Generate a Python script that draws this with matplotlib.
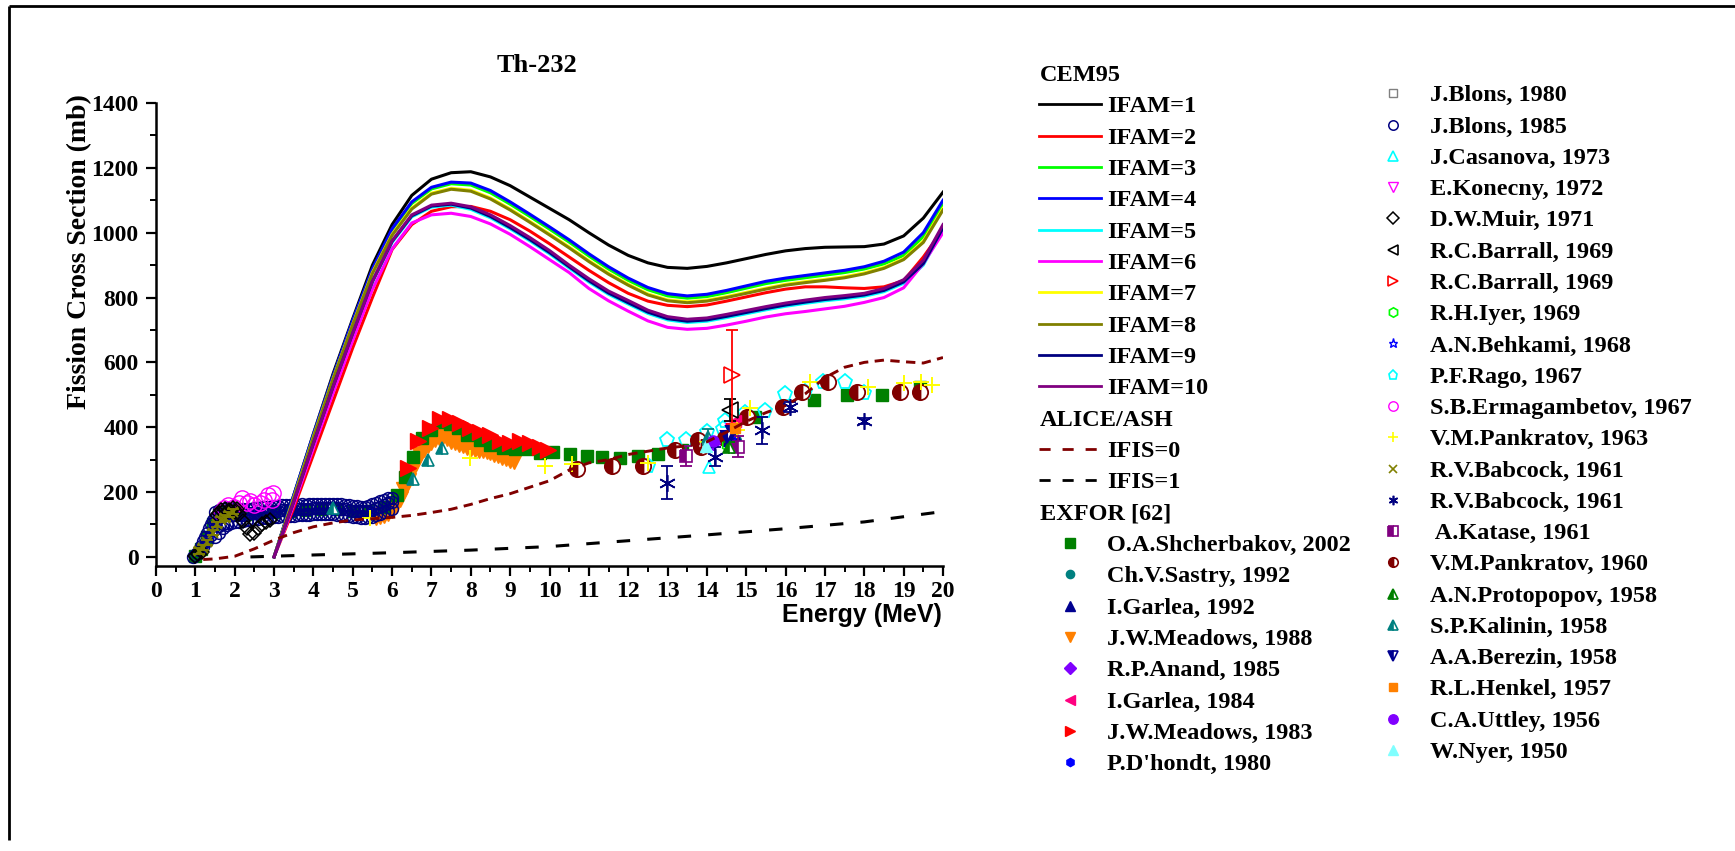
import matplotlib
matplotlib.use("Agg")
import matplotlib.pyplot as plt
from matplotlib.ticker import MultipleLocator

W, H = 1735, 851
SERIF = "Liberation Serif"
SANS = "Liberation Sans"
plt.rcParams["font.family"] = [SERIF, "DejaVu Serif"]
plt.rcParams["font.weight"] = "bold"

# ---------------- CEM95 curves (mb) ----------------
E_cem = [3.0, 3.5, 4.0, 4.5, 5.0, 5.5, 6.0, 6.5, 7.0, 7.5, 8.0, 8.5, 9.0, 9.5, 10.0, 10.5, 11.0, 11.5,
         12.0, 12.5, 13.0, 13.5, 14.0, 14.5, 15.0, 15.5, 16.0, 16.5, 17.0, 17.5, 18.0, 18.5, 19.0, 19.5, 20.0]
ifam1 = [0, 190, 380, 565, 735, 900, 1025, 1115, 1165, 1185, 1188, 1172, 1145, 1110, 1075, 1040, 1000, 962,
         930, 907, 893, 890, 896, 907, 920, 933, 944, 951, 955, 956, 957, 965, 990, 1045, 1125]
ifam2 = [0, 150, 315, 480, 645, 800, 948, 1025, 1066, 1080, 1081, 1066, 1040, 1005, 966, 925, 884, 846,
         813, 789, 776, 772, 777, 789, 802, 815, 826, 833, 833, 830, 828, 833, 852, 925, 1010]
ifam3 = [0, 188, 376, 556, 727, 885, 1008, 1090, 1135, 1151, 1147, 1123, 1088, 1050, 1011, 971, 928, 888,
         853, 824, 805, 798, 803, 815, 829, 843, 853, 861, 869, 877, 888, 904, 930, 988, 1085]
ifam4 = [0, 190, 378, 558, 730, 888, 1012, 1095, 1140, 1156, 1153, 1130, 1095, 1057, 1018, 978, 935, 895,
         860, 831, 812, 805, 810, 822, 836, 850, 860, 868, 876, 884, 895, 912, 940, 1000, 1100]
ifam5 = [0, 168, 348, 522, 687, 847, 970, 1049, 1079, 1085, 1072, 1046, 1012, 975, 935, 891, 848, 810,
         780, 751, 731, 723, 727, 738, 750, 762, 773, 782, 790, 796, 804, 818, 844, 900, 1010]
ifam6 = [0, 160, 335, 505, 668, 825, 950, 1030, 1055, 1060, 1050, 1027, 995, 957, 917, 877, 828, 790,
         758, 728, 708, 702, 705, 715, 727, 740, 750, 757, 765, 773, 785, 800, 830, 905, 1000]
ifam7 = [0, 182, 370, 550, 718, 877, 995, 1076, 1122, 1137, 1131, 1107, 1073, 1035, 996, 956, 914, 875,
         841, 811, 793, 787, 792, 803, 816, 829, 841, 849, 856, 864, 876, 893, 920, 974, 1075]
ifam8 = [0, 180, 368, 548, 716, 874, 992, 1073, 1119, 1134, 1128, 1104, 1070, 1032, 993, 953, 911, 872,
         838, 808, 790, 784, 789, 800, 813, 826, 838, 846, 853, 861, 873, 890, 917, 970, 1070]
ifam9 = [0, 170, 350, 525, 690, 850, 973, 1052, 1082, 1088, 1076, 1050, 1016, 979, 939, 895, 852, 814,
         784, 755, 735, 727, 731, 742, 754, 766, 777, 786, 794, 800, 808, 822, 848, 905, 1015]
ifam10 = [0, 170, 350, 525, 690, 850, 975, 1055, 1085, 1091, 1080, 1055, 1022, 985, 945, 900, 858, 820,
          791, 761, 741, 733, 737, 748, 760, 772, 783, 792, 800, 806, 813, 828, 855, 915, 1025]

# ---------------- ALICE/ASH ----------------
E_ifis0 = [1.2, 1.5, 2.0, 2.5, 3.0, 3.5, 4.0, 4.5, 5.0, 5.5, 6.0, 6.5, 7.0, 7.5, 8.0, 8.5, 9.0, 9.5, 10.0,
           10.5, 11.0, 11.5, 12.0, 12.5, 13.0, 13.5, 14.0, 14.5, 15.0, 15.5, 16.0, 16.5, 17.0, 17.5, 18.0,
           18.5, 19.0, 19.5, 20.0]
ifis0 = [-8, -6, 2, 25, 52, 75, 93, 105, 114, 118, 122, 128, 137, 147, 162, 180, 195, 215, 235,
         268, 290, 300, 316, 326, 336, 343, 355, 385, 418, 445, 467, 503, 553, 585, 600,
         607, 602, 598, 615]
E_ifis1 = [2.4, 4.0, 6.0, 8.0, 10.0, 12.0, 14.0, 16.0, 18.0, 20.0]
ifis1 = [0, 6, 13, 21, 32, 50, 68, 87, 108, 140]

# ---------------- EXFOR data (E in MeV, sigma in mb) ----------------
shch_E = [1.0, 1.15, 1.3, 1.45, 1.6, 1.8, 2.0, 2.3, 2.6, 3.0, 3.4, 3.8, 4.2, 4.6, 5.0, 5.4, 5.8,
          6.12, 6.33, 6.54, 6.75, 7.0, 7.22, 7.47, 7.68, 7.9, 8.23, 8.49, 8.83, 9.12, 9.42, 9.76, 10.1,
          10.52, 10.95, 11.33, 11.79, 12.26, 12.77, 13.36, 15.22, 16.71, 17.55, 18.44, 19.42]
shch_s = [3, 25, 60, 100, 130, 138, 135, 132, 135, 140, 143, 145, 147, 147, 143, 142, 155,
          191, 246, 307, 366, 392, 417, 410, 397, 376, 361, 345, 335, 332, 332, 320, 323,
          318, 311, 309, 304, 311, 318, 330, 433, 484, 500, 500, 525]
sastry_E = [14.75]
sastry_s = [362]
garlea92_E = [14.55, 14.7]
garlea92_s = [360, 378]
mead88_E = [5.6, 5.7, 5.8, 5.9, 6.0, 6.1, 6.2, 6.3, 6.4, 6.5, 6.6, 6.7, 6.8, 6.9, 7.0, 7.1, 7.2, 7.3, 7.4,
            7.5, 7.6, 7.7, 7.8, 7.9, 8.0, 8.1, 8.2, 8.3, 8.4, 8.5, 8.6, 8.7, 8.8, 8.9, 9.0, 9.1]
mead88_s = [124, 126, 130, 136, 145, 160, 180, 205, 235, 265, 292, 315, 333, 345, 355, 365, 371, 372, 366,
            358, 353, 349, 344, 340, 336, 333, 331, 330, 328, 324, 318, 313, 308, 304, 300, 297]
anand_E = [14.15]
anand_s = [350]
garlea84_E = [14.71]
garlea84_s = [420]
mead83_E = [6.41, 6.67, 6.96, 7.22, 7.47, 7.73, 7.98, 8.23, 8.49, 8.74, 9.0, 9.25, 9.5, 9.76, 9.97]
mead83_s = [273, 356, 397, 425, 425, 412, 397, 386, 376, 356, 352, 356, 351, 340, 330]
dhondt_E = [1.25, 1.35, 1.45, 1.55, 2.5, 3.5, 4.5, 5.5]
dhondt_s = [40, 65, 92, 112, 135, 143, 146, 142]
blons80_E = [1.8, 2.2]
blons80_s = [125, 128]
blons85_E_rise = [0.95, 1.0, 1.05, 1.1, 1.15, 1.2, 1.25, 1.3, 1.35, 1.4, 1.45, 1.2, 1.3, 1.4, 1.5, 1.6, 1.7, 1.8]
blons85_s_rise = [0, 5, 12, 22, 35, 50, 62, 75, 88, 100, 115, 30, 48, 68, 62, 75, 88, 98]
blons85_E_band = [1.5, 1.6, 1.7, 1.8, 1.9, 2.0, 2.1, 2.2, 2.3, 2.4, 2.5, 2.6, 2.7, 2.8, 2.9, 3.0, 3.1, 3.2,
                  3.3, 3.4, 3.5, 3.6, 3.7, 3.8, 3.9, 4.0, 4.1, 4.2, 4.3, 4.4, 4.5, 4.6, 4.7, 4.8, 4.9, 5.0,
                  5.1, 5.2, 5.3, 5.4, 5.5, 5.6, 5.7, 5.8, 5.9, 6.0]
blons85_s_upper = [140, 146, 149, 150, 149, 150, 147, 148, 147, 149, 150, 151, 153, 154, 155, 157, 158, 159,
                   160, 159, 160, 161, 162, 161, 162, 163, 162, 163, 162, 163, 164, 162, 163, 161, 159, 157,
                   156, 155, 155, 157, 162, 167, 173, 177, 181, 183]
blons85_s_mid = [118, 124, 127, 128, 128, 129, 128, 130, 132, 134, 135, 137, 138, 139, 140, 142, 143, 144,
                 145, 145, 146, 147, 148, 148, 149, 150, 150, 150, 151, 151, 151, 150, 149, 147, 145, 143,
                 142, 141, 141, 142, 145, 150, 155, 161, 165, 170]
blons85_s_lower = [85, 95, 100, 104, 106, 108, 108, 110, 113, 115, 116, 118, 119, 120, 121, 123, 124, 125,
                   126, 127, 127, 128, 129, 129, 130, 131, 131, 131, 132, 132, 131, 130, 129, 127, 125, 123,
                   122, 121, 121, 122, 124, 128, 133, 139, 143, 148]
casanova_E = [14.06]
casanova_s = [277]
konecny_E = [14.6]
konecny_s = [395]
muir_E = [1.0, 1.08, 1.16, 1.55, 1.6, 1.7, 1.8, 1.9, 2.0, 2.1, 2.2, 2.3, 2.4, 2.5, 2.6, 2.7, 2.8, 2.9,
          1.65, 1.75, 1.85, 1.95, 2.05]
muir_s = [3, 8, 15, 128, 135, 140, 138, 142, 140, 132, 112, 90, 72, 75, 88, 100, 108, 115,
          145, 148, 146, 150, 147]
barrall_b_E = [14.59]
barrall_b_s = [453]
barrall_b_err = [35]
barrall_r_E = [14.63]
barrall_r_s = [561]
barrall_r_err_lo = [150]
barrall_r_err_hi = [140]
iyer_E = [14.5]
iyer_s = [345]
behkami_E = [14.6]
behkami_s = [365]
rago_E = [12.51, 12.98, 13.48, 14.0, 14.42, 14.46, 14.97, 15.48, 15.98, 16.49, 16.96, 17.5, 18.0]
rago_s = [281, 361, 361, 386, 395, 420, 443, 451, 502, 510, 541, 541, 505]
erm_E = [1.65, 1.72, 1.84, 1.99, 2.1, 2.18, 2.3, 2.39, 2.5, 2.64, 2.75, 2.85, 2.94, 2.98]
erm_s = [140, 150, 160, 155, 165, 181, 165, 171, 160, 165, 175, 191, 176, 196]
pank63_E = [5.44, 7.98, 9.89, 10.56, 12.51, 14.0, 14.76, 15.1, 16.62, 18.1, 19.0, 19.45, 19.71]
pank63_s = [119, 304, 279, 287, 289, 355, 392, 460, 538, 525, 535, 540, 530]
babc_x_E = [1.1, 1.2, 1.3, 1.45, 1.55, 1.65, 1.75, 1.85, 1.95]
babc_x_s = [18, 28, 45, 75, 100, 115, 120, 130, 140]
babc_x_err = [8, 8, 8, 8, 8, 8, 8, 8, 8]
babc_a_E = [12.98, 14.2, 15.41, 16.1, 17.99]
babc_a_s = [229, 309, 390, 463, 420]
babc_a_err = [50, 30, 41, 15, 10]
katase_E = [13.48, 14.8]
katase_s = [311, 340]
katase_err = [32, 32]
pank60_E = [10.69, 11.6, 12.38, 13.19, 13.78, 13.86, 14.46, 15.01, 15.94, 16.41, 17.09, 17.81, 18.91, 19.42]
pank60_s = [270, 281, 281, 330, 361, 340, 366, 431, 463, 510, 541, 510, 510, 510]
proto_E = [14.55]
proto_s = [338]
proto_err = [15]
kalinin_E = [4.5, 6.54, 6.92, 7.26, 14.02]
kalinin_s = [150, 240, 299, 335, 370]
kalinin_err = [0, 0, 0, 0, 25]
berezin_E = [14.5, 14.65]
berezin_s = [371, 385]
henkel_E = [14.71]
henkel_s = [397]
uttley_E = [14.16]
uttley_s = [356]
nyer_E = [13.98]
nyer_s = [342]

# ---------------- figure ----------------
fig = plt.figure(figsize=(W / 100, H / 100), dpi=100)
ax = fig.add_axes([156 / W, 1 - 566 / H, (943 - 156) / W, (566 - 103) / H])
ax.set_xlim(0, 20)
ax.set_ylim(-28, 1400)
for s in ("top", "right"):
    ax.spines[s].set_visible(False)
for s in ("left", "bottom"):
    ax.spines[s].set_linewidth(1.8)
ax.xaxis.set_major_locator(MultipleLocator(1))
ax.xaxis.set_minor_locator(MultipleLocator(0.5))
ax.yaxis.set_major_locator(MultipleLocator(200))
ax.yaxis.set_minor_locator(MultipleLocator(100))
ax.tick_params(which="major", direction="out", length=7.5, width=1.6, labelsize=17)
ax.tick_params(which="minor", direction="out", length=4.5, width=1.4)
ax.tick_params(axis="x", which="major", pad=3)
ax.tick_params(axis="y", which="major", pad=5)


def mstyle(marker, color, ms, kind="full", mew=1.0):
    d = dict(marker=marker, markersize=ms, markeredgecolor=color, markeredgewidth=mew, linestyle="none")
    if kind == "open":
        d["markerfacecolor"] = "none"
    elif kind == "half":
        d["markerfacecolor"] = color
        d["fillstyle"] = "left"
        d["markerfacecoloralt"] = "white"
    else:
        d["markerfacecolor"] = color
    return d


AST = (6, 2, 0)
# label, E, s, err, marker, color, ms, kind, mew, zorder
series = [
    ("O.A.Shcherbakov, 2002", shch_E, shch_s, None, "s", "#008000", 8.5, "full", 1.0, 2.1),
    ("Ch.V.Sastry, 1992", sastry_E, sastry_s, None, "o", "#008080", 7, "full", 1.0, 2.5),
    ("I.Garlea, 1992", garlea92_E, garlea92_s, None, "^", "#000090", 8, "full", 1.0, 2.5),
    ("J.W.Meadows, 1988", mead88_E, mead88_s, None, "v", "#FF8000", 11, "full", 1.0, 2.0),
    ("R.P.Anand, 1985", anand_E, anand_s, None, "D", "#8000FF", 7, "full", 1.0, 2.5),
    ("I.Garlea, 1984", garlea84_E, garlea84_s, None, "<", "#FF0080", 9, "full", 1.0, 2.5),
    ("J.W.Meadows, 1983", mead83_E, mead83_s, None, ">", "#FF0000", 11, "full", 1.0, 2.2),
    ("P.D'hondt, 1980", dhondt_E, dhondt_s, None, "h", "#0000FF", 7, "full", 1.0, 2.25),
    ("J.Blons, 1980", blons80_E, blons80_s, None, "s", "#808080", 7, "open", 1.0, 2.3),
    ("J.Blons, 1985", blons85_E_rise + blons85_E_band * 3,
     blons85_s_rise + blons85_s_upper + blons85_s_mid + blons85_s_lower, None,
     "o", "#000080", 8.5, "open", 1.1, 2.3),
    ("J.Casanova, 1973", casanova_E, casanova_s, None, "^", "#00FFFF", 9, "open", 1.2, 2.5),
    ("E.Konecny, 1972", konecny_E, konecny_s, None, "v", "#FF00FF", 8, "open", 1.0, 2.5),
    ("D.W.Muir, 1971", muir_E, muir_s, None, "D", "#000000", 7.5, "open", 1.1, 2.4),
    ("R.C.Barrall, 1969", barrall_b_E, barrall_b_s, barrall_b_err, "<", "#000000", 12, "open", 1.2, 2.5),
    ("R.C.Barrall, 1969", barrall_r_E, barrall_r_s, [barrall_r_err_lo, barrall_r_err_hi],
     ">", "#FF0000", 12, "open", 1.2, 2.5),
    ("R.H.Iyer, 1969", iyer_E, iyer_s, None, "h", "#00FF00", 8, "open", 1.2, 2.5),
    ("A.N.Behkami, 1968", behkami_E, behkami_s, None, "*", "#0000FF", 9, "open", 1.0, 2.5),
    ("P.F.Rago, 1967", rago_E, rago_s, None, "p", "#00FFFF", 11, "open", 1.3, 2.45),
    ("S.B.Ermagambetov, 1967", erm_E, erm_s, None, "o", "#FF00FF", 11, "open", 1.0, 2.35),
    ("V.M.Pankratov, 1963", pank63_E, pank63_s, None, "+", "#FFFF00", 11, "full", 1.4, 2.5),
    ("R.V.Babcock, 1961", babc_x_E, babc_x_s, babc_x_err, "x", "#808000", 7, "full", 1.3, 2.45),
    ("R.V.Babcock, 1961", babc_a_E, babc_a_s, babc_a_err, AST, "#000080", 12, "full", 1.2, 2.5),
    (" A.Katase, 1961", katase_E, katase_s, katase_err, "s", "#800080", 9, "half", 1.2, 2.5),
    ("V.M.Pankratov, 1960", pank60_E, pank60_s, None, "o", "#800000", 11, "half", 1.3, 2.45),
    ("A.N.Protopopov, 1958", proto_E, proto_s, proto_err, "^", "#008000", 8, "half", 1.2, 2.5),
    ("S.P.Kalinin, 1958", kalinin_E, kalinin_s, kalinin_err, "^", "#008080", 9, "half", 1.2, 2.5),
    ("A.A.Berezin, 1958", berezin_E, berezin_s, None, "v", "#000090", 8, "half", 1.5, 2.5),
    ("R.L.Henkel, 1957", henkel_E, henkel_s, None, "s", "#FF8000", 7, "full", 1.0, 2.5),
    ("C.A.Uttley, 1956", uttley_E, uttley_s, None, "o", "#8000FF", 8, "full", 1.0, 2.5),
    ("W.Nyer, 1950", nyer_E, nyer_s, None, "^", "#80FFFF", 9, "full", 1.0, 2.5),
]

for lab, E, s, err, mk, col, ms, kind, mew, z in series:
    if err is not None:
        if isinstance(err[0], list):
            ax.errorbar(E, s, yerr=err, fmt="none", ecolor=col, elinewidth=1.3,
                        capsize=4.5, capthick=1.3, zorder=z)
        else:
            Ee = [e for e, v in zip(E, err) if v > 0]
            se = [y for y, v in zip(s, err) if v > 0]
            ve = [v for v in err if v > 0]
            ax.errorbar(Ee, se, yerr=ve, fmt="none", ecolor=col, elinewidth=1.3,
                        capsize=4.5, capthick=1.3, zorder=z)
    ax.plot(E, s, zorder=z, **mstyle(mk, col, ms, kind, mew))

# model curves
cem = [
    ("IFAM=1", ifam1, "#000000"), ("IFAM=2", ifam2, "#FF0000"), ("IFAM=3", ifam3, "#00FF00"),
    ("IFAM=4", ifam4, "#0000FF"), ("IFAM=5", ifam5, "#00FFFF"), ("IFAM=6", ifam6, "#FF00FF"),
    ("IFAM=7", ifam7, "#FFFF00"), ("IFAM=8", ifam8, "#808000"), ("IFAM=9", ifam9, "#000080"),
    ("IFAM=10", ifam10, "#800080"),
]
for i, (lab, y, col) in enumerate(cem):
    ax.plot(E_cem, y, color=col, lw=2.2, zorder=3 + i * 0.01, solid_joinstyle="round")

ax.plot(E_ifis0, ifis0, color="#800000", lw=2.1, dashes=(3.2, 2.2), zorder=3.2)
ax.plot(E_ifis1, ifis1, color="#000000", lw=2.2, dashes=(4.4, 5.6), zorder=3.2)

# texts
fig.text(537 / W, 1 - 66 / H, "Th-232", ha="center", va="center", fontsize=19,
         family=SERIF, weight="bold")
fig.text(80 / W, 1 - 252 / H, "Fission Cross Section (mb)", rotation=90, ha="center",
         va="center", fontsize=20, family=SERIF, weight="bold")
fig.text(942 / W, 1 - 615 / H, "Energy (MeV)", ha="right", va="center", fontsize=18,
         family=SANS, weight="bold")

# ---------------- legend (overlay in pixel coordinates) ----------------
lax = fig.add_axes([0, 0, 1, 1])
lax.set_xlim(0, W)
lax.set_ylim(H, 0)
lax.axis("off")

# frame lines
lax.plot([9, 9], [6, 840], color="black", lw=2.0, solid_capstyle="butt")
lax.plot([9, W], [6, 6], color="black", lw=2.0, solid_capstyle="butt")

FS = 17.5
def ltext(x, y, s):
    lax.text(x, y + 8, s, ha="left", va="baseline", fontsize=FS, family=SERIF, weight="bold")

row1 = lambda k: 73 + 31.33 * k
ltext(1040, row1(0), "CEM95")
for i, (lab, y, col) in enumerate(cem):
    yy = row1(1 + i)
    lax.plot([1039, 1101], [yy, yy], color=col, lw=2.0)
    ltext(1107, yy, lab)
ltext(1040, row1(11), "ALICE/ASH")
yy = row1(12)
lax.plot([1039, 1097], [yy, yy], color="#800000", lw=2.0, dashes=(4.0, 4.3))
ltext(1107, yy, "IFIS=0")
yy = row1(13)
lax.plot([1039, 1097], [yy, yy], color="#000000", lw=2.0, dashes=(4.0, 4.3))
ltext(1107, yy, "IFIS=1")
ltext(1040, row1(14), "EXFOR [62]")

for j, (lab, E, s, err, mk, col, ms, kind, mew, z) in enumerate(series):
    if j < 8:
        x0, yy, xt = 1070, row1(15 + j), 1107
    else:
        x0, yy, xt = 1393, 93.3 + 31.27 * (j - 8), 1430
    lax.plot([x0], [yy], **mstyle(mk, col, min(ms, 8) * 0.85, kind, min(mew, 1.2)))
    ltext(xt, yy, lab)

fig.savefig("out.png", dpi=100)
